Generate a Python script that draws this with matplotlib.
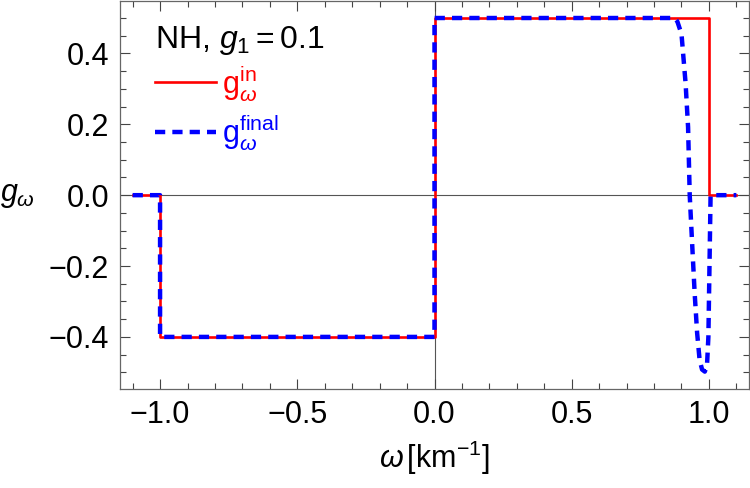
import matplotlib
matplotlib.use("Agg")
import matplotlib.pyplot as plt
from matplotlib.ticker import MultipleLocator

plt.rcParams['font.family'] = ['Liberation Sans', 'DejaVu Sans']
plt.rcParams['mathtext.fontset'] = 'custom'
plt.rcParams['mathtext.rm'] = 'Liberation Sans'
plt.rcParams['mathtext.it'] = 'Liberation Sans:italic'
plt.rcParams['mathtext.bf'] = 'Liberation Sans:bold'

# data
omega_in = [-1.1, -1.0, -1.0, 0.0, 0.0, 1.0, 1.0, 1.1]
g_in = [0.0, 0.0, -0.4, -0.4, 0.5, 0.5, 0.0, 0.0]

omega_final = [-1.1, -1.0, -1.0, 0.0, 0.0, 0.875, 0.885, 0.900, 0.915, 0.924,
               0.930, 0.940, 0.948, 0.957, 0.966, 0.975, 0.985, 0.993,
               0.998, 1.001, 1.004, 1.006, 1.1]
g_final = [0.0, 0.0, -0.4, -0.4, 0.5, 0.5, 0.49, 0.455, 0.315, 0.192,
           0.0, -0.155, -0.277, -0.389, -0.465, -0.492, -0.498, -0.48,
           -0.40, -0.25, -0.10, 0.0, 0.0]

xticks = [-1.0, -0.5, 0.0, 0.5, 1.0]
yticks = [-0.4, -0.2, 0.0, 0.2, 0.4]

fig = plt.figure(figsize=(7.5, 4.88), dpi=100)
ax = fig.add_axes([120/750, 1-389/488, 629/750, 388/488])

ax.axhline(0, color='#555555', lw=0.8, zorder=1)
ax.axvline(0, color='#555555', lw=0.8, zorder=1)

ax.plot(omega_in, g_in, color='#ff0000', lw=1.9, zorder=2,
        label=r'$\mathrm{g}_{\omega}^{\mathrm{in}}$')
ax.plot(omega_final, g_final, color='#0000ff', lw=3.2, zorder=3,
        dashes=(2.3, 1.6), label=r'$\mathrm{g}_{\omega}^{\mathrm{final}}$')

ax.set_xlim(-1.146, 1.146)
ax.set_ylim(-0.547, 0.548)
ax.set_xticks(xticks)
ax.set_yticks(yticks)
ax.set_xticklabels([f'{v:.1f}'.replace('-', '\u2212') for v in xticks])
ax.set_yticklabels([f'{v:.1f}'.replace('-', '\u2212') for v in yticks])
ax.xaxis.set_minor_locator(MultipleLocator(0.1))
ax.yaxis.set_minor_locator(MultipleLocator(0.05))
ax.tick_params(which='both', direction='in', top=True, right=True,
               color='#444444', width=0.8)
ax.tick_params(which='major', length=7, labelsize=22, pad=8)
ax.tick_params(which='minor', length=4)
for s in ax.spines.values():
    s.set_color('#666666')
    s.set_linewidth(0.9)

ax.set_xlabel(r'$\omega\,[\mathrm{km}^{-1}]$', fontsize=22, labelpad=6)
ax.set_ylabel(r'$g_{\omega}$', fontsize=22, rotation=0, labelpad=22, va='center')

ax.text(35/629, 1-47/388, r'NH, $g_1 = 0.1$', transform=ax.transAxes,
        fontsize=23, ha='left', va='baseline')

leg = ax.legend(loc='upper left', bbox_to_anchor=(35/629, 1-62/388),
                frameon=False, fontsize=22, handlelength=2.0,
                handletextpad=0.2, borderaxespad=0, borderpad=0,
                labelspacing=0.3)
for t, c in zip(leg.get_texts(), ['#ff0000', '#0000ff']):
    t.set_color(c)

fig.savefig('out.png', dpi=100)
